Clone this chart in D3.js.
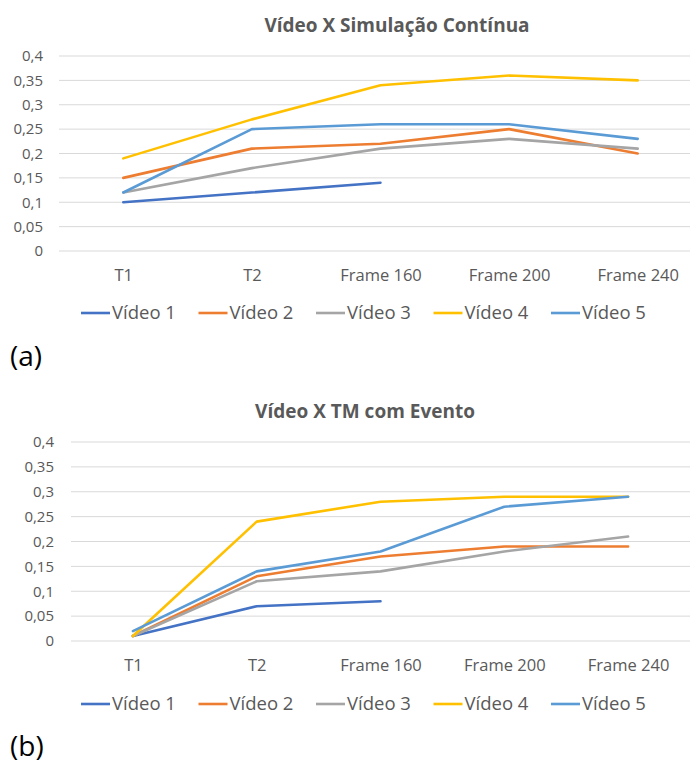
<!DOCTYPE html>
<html><head><meta charset="utf-8">
<script src="https://cdn.jsdelivr.net/npm/d3@7"></script>
<style>body{margin:0;background:#fff}svg{display:block}</style>
</head><body>
<svg id="c" width="690" height="763"></svg>
<script>
const categories = ["T1", "T2", "Frame 160", "Frame 200", "Frame 240"];
const seriesNames = ["Vídeo 1", "Vídeo 2", "Vídeo 3", "Vídeo 4", "Vídeo 5"];
const seriesColors = ["#4472C4", "#ED7D31", "#A5A5A5", "#FFC000", "#5B9BD5"];
const yTicks = [0, 0.05, 0.1, 0.15, 0.2, 0.25, 0.3, 0.35, 0.4];

// Chart (a): Vídeo X Simulação Contínua
const aVideo1 = [0.10, 0.12, 0.14, null, null];
const aVideo2 = [0.15, 0.21, 0.22, 0.25, 0.20];
const aVideo3 = [0.12, 0.17, 0.21, 0.23, 0.21];
const aVideo4 = [0.19, 0.27, 0.34, 0.36, 0.35];
const aVideo5 = [0.12, 0.25, 0.26, 0.26, 0.23];

// Chart (b): Vídeo X TM com Evento
const bVideo1 = [0.01, 0.07, 0.08, null, null];
const bVideo2 = [0.01, 0.13, 0.17, 0.19, 0.19];
const bVideo3 = [0.01, 0.12, 0.14, 0.18, 0.21];
const bVideo4 = [0.01, 0.24, 0.28, 0.29, 0.29];
const bVideo5 = [0.02, 0.14, 0.18, 0.27, 0.29];

const svg = d3.select("#c");
const FONT = "'Open Sans', sans-serif";
const TXT = "#595959";

function drawChart(cfg) {
  const g = svg.append("g");
  const x = d3.scalePoint().domain(categories).range([cfg.left, cfg.right]).padding(0.5);
  const y = d3.scaleLinear().domain([0, 0.4]).range([cfg.bottom, cfg.top]);
  const fmt = v => d3.format("")(+v.toFixed(2)).replace(".", ",");

  // gridlines
  g.selectAll(".grid").data(yTicks).join("line")
    .attr("x1", cfg.left).attr("x2", cfg.right)
    .attr("y1", d => y(d)).attr("y2", d => y(d))
    .attr("stroke", "#D9D9D9").attr("stroke-width", 1);

  // y axis labels
  const ya = d3.axisLeft(y).tickValues(yTicks).tickFormat(fmt).tickSize(0).tickPadding(cfg.yPad);
  const yg = g.append("g").attr("transform", `translate(${cfg.left},0)`).call(ya);
  yg.select(".domain").remove();
  yg.selectAll("text").attr("fill", TXT).style("font-family", FONT).style("font-size", "15px");

  // x axis labels
  const xa = d3.axisBottom(x).tickSize(0).tickPadding(cfg.xPad);
  const xg = g.append("g").attr("transform", `translate(0,${cfg.bottom})`).call(xa);
  xg.select(".domain").remove();
  xg.selectAll("text").attr("fill", TXT).style("font-family", FONT).style("font-size", "16.5px");

  // lines
  const line = d3.line().defined(d => d.v != null).x(d => x(d.c)).y(d => y(d.v));
  cfg.series.forEach((vals, i) => {
    g.append("path")
      .datum(vals.map((v, j) => ({ c: categories[j], v })))
      .attr("d", line).attr("fill", "none")
      .attr("stroke", seriesColors[i]).attr("stroke-width", 2.6)
      .attr("stroke-linejoin", "round").attr("stroke-linecap", "round");
  });

  // title
  g.append("text").attr("x", cfg.titleX).attr("y", cfg.titleY)
    .attr("text-anchor", "middle").attr("fill", TXT)
    .style("font-family", FONT).style("font-weight", "bold").style("font-size", "19px")
    .text(cfg.title);

  // legend
  const lg = g.append("g").attr("transform", `translate(${cfg.legendX},${cfg.legendY})`);
  seriesNames.forEach((n, i) => {
    const it = lg.append("g").attr("transform", `translate(${i * 117.5},0)`);
    it.append("line").attr("x1", 0).attr("x2", 29).attr("y1", 0).attr("y2", 0)
      .attr("stroke", seriesColors[i]).attr("stroke-width", 2.6);
    it.append("text").attr("x", 31).attr("y", 0).attr("dy", "0.35em")
      .attr("fill", TXT).style("font-family", FONT).style("font-size", "18.5px").text(n);
  });

  // panel label
  g.append("text").attr("x", 10).attr("y", cfg.panelY).attr("fill", "#000")
    .style("font-family", FONT).style("font-size", "28px").text(cfg.panel);
}

drawChart({
  title: "Vídeo X Simulação Contínua", titleX: 397, titleY: 32,
  left: 59, right: 702, top: 56, bottom: 251, yPad: 16, xPad: 18,
  series: [aVideo1, aVideo2, aVideo3, aVideo4, aVideo5],
  legendX: 81, legendY: 313, panel: "(a)", panelY: 366
});
drawChart({
  title: "Vídeo X TM com Evento", titleX: 365, titleY: 418,
  left: 71, right: 690, top: 442, bottom: 641, yPad: 17, xPad: 18,
  series: [bVideo1, bVideo2, bVideo3, bVideo4, bVideo5],
  legendX: 81, legendY: 704, panel: "(b)", panelY: 756
});
</script>
</body></html>
